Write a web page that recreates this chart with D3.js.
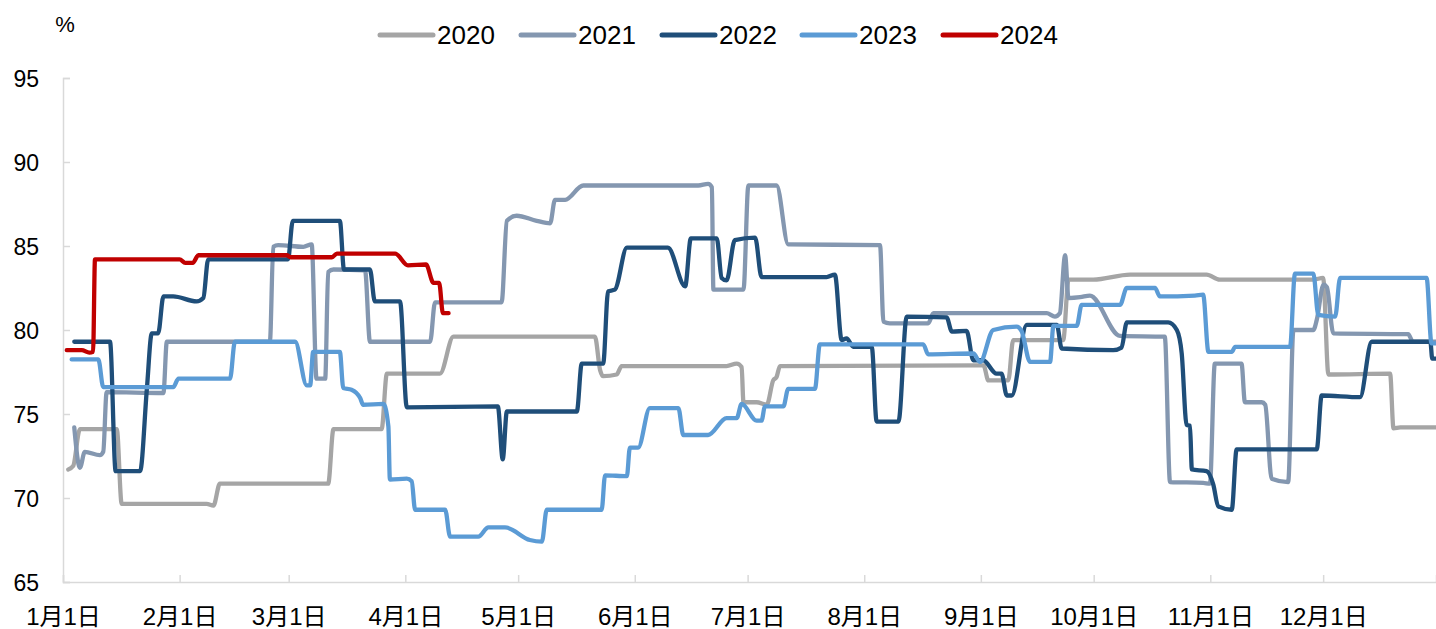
<!DOCTYPE html>
<html>
<head>
<meta charset="utf-8">
<script src="https://cdn.jsdelivr.net/npm/d3@7"></script>
<style>
  body { margin: 0; background: #fff; }
  svg text { font-family: "Liberation Sans", Arial, "Noto Sans CJK SC", sans-serif; fill: #000; }
</style>
</head>
<body>
<div id="chart"></div>
<script>
// day index counted from Jan 1 (leap-year calendar), value in %
var years = ["2020", "2021", "2022", "2023", "2024"];
var colors = ["#A5A5A5", "#8497B0", "#1F4E79", "#5B9BD5", "#C00000"];
var yTicks = [65, 70, 75, 80, 85, 90, 95];

var s2020 = [[1.4,71.7],[2.7,71.9],[4.5,74.1],[14.3,74.1],[15.6,69.65],[38.2,69.65],[40,69.55],[41.7,70.85],[70.5,70.85],[71.9,74.1],[84.7,74.1],[86.1,77.4],[100.2,77.4],[103.8,79.6],[141.4,79.6],[142.8,77.6],[143.6,77.25],[147.2,77.35],[148.5,77.85],[176.4,77.85],[179.1,78.0],[180.4,77.8],[180.9,75.7],[184.4,75.7],[187.1,75.55],[188.8,77.0],[189.7,77.2],[190.6,77.85],[244.7,77.9],[246,77.0],[251.3,77.0],[252.6,79.4],[265.9,79.4],[267.3,83.0],[273.9,83.0],[283.7,83.3],[304,83.3],[307.5,83.0],[332.4,83.0],[335,83.1],[336.4,77.35],[352.8,77.4],[353.7,74.15],[355.5,74.2],[365,74.2]];

var s2021 = [[3,74.2],[4.5,71.8],[5.8,72.75],[9.8,72.55],[10.7,72.75],[11.6,76.3],[26.7,76.25],[27.6,79.3],[55,79.3],[55.9,84.95],[57.2,85.05],[63.9,84.95],[66.1,85.1],[67.4,77.1],[69.7,77.1],[70.5,83.45],[71.9,83.6],[80.3,83.55],[81.6,79.3],[97.6,79.3],[98.9,81.65],[116.6,81.65],[118,86.5],[120.6,86.8],[125.9,86.5],[129.5,86.35],[130.8,87.75],[133.5,87.75],[138.3,88.6],[168.9,88.6],[171.5,88.7],[172.5,88.5],[172.9,82.4],[180.9,82.4],[182.2,88.6],[189.7,88.6],[192.8,85.1],[217.2,85.05],[218.1,80.5],[219.8,80.4],[230,80.4],[231.4,81.0],[261.5,81.0],[263.7,80.8],[265,81.0],[266.4,84.45],[267.3,81.9],[270.4,81.95],[273,82.05],[281,79.65],[292.9,79.6],[294.3,70.95],[303.1,70.9],[304.9,70.85],[306.2,78.0],[313.3,78.0],[314.2,75.7],[318.7,75.7],[319.6,75.55],[321.3,71.15],[325.7,70.95],[327.1,80.0],[332.4,80.0],[333.3,80.6],[335.1,82.7],[336,82.55],[337.7,79.8],[357.6,79.75],[358.9,79.3],[365,79.3]];

var s2022 = [[3,79.3],[12.5,79.3],[14,71.6],[20.5,71.6],[22.3,76.5],[23.6,79.8],[25.3,79.8],[26.7,82.0],[29.3,82.0],[35.5,81.7],[37.3,81.9],[38.6,84.2],[59.8,84.2],[61.1,86.5],[73.6,86.5],[74.7,83.6],[81.6,83.6],[82.9,81.7],[89.6,81.7],[91.4,75.4],[115.6,75.45],[116.9,72.3],[118,75.15],[136.6,75.15],[137.9,78.0],[143.6,78.0],[144.9,82.3],[146.7,82.4],[149.9,84.9],[160.8,84.9],[165.4,82.6],[166.9,85.45],[173.8,85.45],[175.1,83.1],[176.4,82.95],[178.6,85.35],[184,85.5],[185.7,83.15],[203,83.15],[205.2,83.3],[207,79.4],[208.3,79.5],[210.1,79.0],[215,79.0],[216.3,74.55],[222.1,74.55],[224.3,80.8],[234.9,80.75],[236.3,79.9],[240.2,79.95],[242,78.2],[244.6,78.2],[248.2,77.4],[249.5,77.4],[250.9,76.1],[252.2,76.1],[256.2,80.3],[264.2,80.3],[265.5,78.9],[279.2,78.8],[281.4,78.95],[282.8,80.45],[293.8,80.45],[296.1,80.0],[297.4,78.6],[298.7,74.35],[299.6,74.3],[300.1,71.7],[304,71.6],[305.8,70.8],[307.1,69.5],[310.7,69.3],[312,72.9],[333.3,72.9],[334.6,76.1],[344.8,76.0],[347.9,79.3],[363.5,79.3],[364,78.3],[365,78.3]];

var s2023 = [[2.3,78.25],[9.4,78.25],[10.7,76.6],[29.3,76.6],[30.7,77.1],[44.4,77.1],[45.7,79.3],[61.7,79.3],[64.8,76.7],[65.7,76.7],[66.5,78.7],[73.6,78.7],[74.5,76.55],[76.7,76.45],[79,75.95],[79.8,75.55],[85.2,75.6],[86.5,74.25],[86.9,71.1],[91.4,71.15],[92.7,71.0],[93.6,69.3],[101.6,69.3],[102.9,67.7],[110.4,67.7],[113.1,68.25],[117.5,68.25],[124.1,67.5],[127.3,67.4],[128.6,69.3],[143.2,69.3],[144.1,71.35],[149.9,71.3],[150.7,73.0],[152.9,73.0],[156,75.35],[163.6,75.35],[164.9,73.75],[171.5,73.75],[176.4,74.75],[179.1,74.75],[180.4,75.6],[184.4,74.6],[185.7,74.6],[186.6,75.45],[191.5,75.45],[192.8,76.5],[199.9,76.5],[201.2,79.15],[228.7,79.15],[230,78.55],[242,78.6],[243.8,78.1],[247.3,80.0],[253.5,80.2],[254.8,79.95],[257.1,78.1],[262.4,78.1],[263.3,80.25],[269.5,80.25],[270.8,81.5],[281,81.5],[282.8,82.5],[290.3,82.5],[291.6,82.0],[300.9,82.05],[303.1,82.1],[304.5,78.7],[310.7,78.7],[311.6,79.0],[326.2,79.0],[327.5,83.35],[332.4,83.35],[333.7,80.9],[338.2,80.8],[339.5,83.1],[362.5,83.1],[363.8,79.2],[365,79.2]];

var s2024 = [[1,78.8],[5,78.8],[7,78.65],[8,78.7],[8.5,84.2],[31,84.2],[32.5,84.0],[34.5,84.0],[36,84.45],[59.5,84.45],[60.5,84.33],[71.5,84.33],[72.8,84.55],[88.3,84.55],[91.7,83.85],[96.5,83.9],[98.5,82.8],[100,82.8],[101,81.0],[102.5,81.0]];

var seriesData = [s2020, s2021, s2022, s2023, s2024];

var width = 1436,
    height = 629,
    margin = {left: 63, right: 0, top: 78, bottom: 47};

var start = new Date(2020, 0, 1);
function toDate(d) {
    return new Date(start.getTime() + d * 86400000);
}

var svg = d3.select("#chart")
    .append("svg")
    .attr("width", width)
    .attr("height", height);

// scales
var x = d3.scaleTime()
    .domain([start, new Date(2020, 11, 31)])
    .range([margin.left, width - margin.right]);

var y = d3.scaleLinear()
    .domain([65, 95])
    .range([height - margin.bottom, margin.top]);

// y axis
var yAxis = d3.axisLeft(y)
    .tickValues(yTicks)
    .tickSize(-7)
    .tickPadding(24);

var gy = svg.append("g")
    .attr("transform", "translate(" + margin.left + ",0)")
    .call(yAxis);
gy.select(".domain").attr("stroke", "#D9D9D9").attr("stroke-width", 1.5);
gy.selectAll(".tick line").attr("stroke", "#D9D9D9").attr("stroke-width", 1.5);
gy.selectAll(".tick text")
    .style("font-size", "23px")
    .attr("dy", "0.35em");

// x axis
var xAxis = d3.axisBottom(x)
    .ticks(d3.timeMonth.every(1))
    .tickSize(-7)
    .tickPadding(26)
    .tickFormat(function(d) { return (d.getMonth() + 1) + "月1日"; });

var gx = svg.append("g")
    .attr("transform", "translate(0," + (height - margin.bottom) + ")")
    .call(xAxis);
gx.select(".domain").attr("stroke", "#D9D9D9").attr("stroke-width", 1.5);
gx.selectAll(".tick line").attr("stroke", "#D9D9D9").attr("stroke-width", 1.5);
gx.selectAll(".tick text")
    .style("font-size", "24px");

// unit
svg.append("text")
    .attr("x", 65)
    .attr("y", 32)
    .attr("text-anchor", "middle")
    .style("font-size", "22px")
    .text("%");

// lines
var line = d3.line()
    .x(function(d) { return x(toDate(d[0])); })
    .y(function(d) { return y(d[1]); })
    .curve(d3.curveMonotoneX);

svg.append("g")
    .attr("class", "lines")
    .selectAll("path")
    .data(seriesData)
    .enter()
    .append("path")
    .attr("d", function(d) { return line(d); })
    .style("fill", "none")
    .style("stroke", function(d, i) { return colors[i]; })
    .style("stroke-width", 4.3)
    .style("stroke-linejoin", "round")
    .style("stroke-linecap", "round");

// legend
var legendX = [378, 519, 660, 800, 941];
var legend = svg.append("g")
    .selectAll("g")
    .data(years)
    .enter()
    .append("g")
    .attr("transform", function(d, i) { return "translate(" + legendX[i] + ",35)"; });

legend.append("line")
    .attr("x1", 2)
    .attr("x2", 55)
    .style("stroke", function(d, i) { return colors[i]; })
    .style("stroke-width", 5)
    .style("stroke-linecap", "round");

legend.append("text")
    .attr("x", 59)
    .attr("dy", "0.36em")
    .style("font-size", "26px")
    .text(function(d) { return d; });
</script>
</body>
</html>
